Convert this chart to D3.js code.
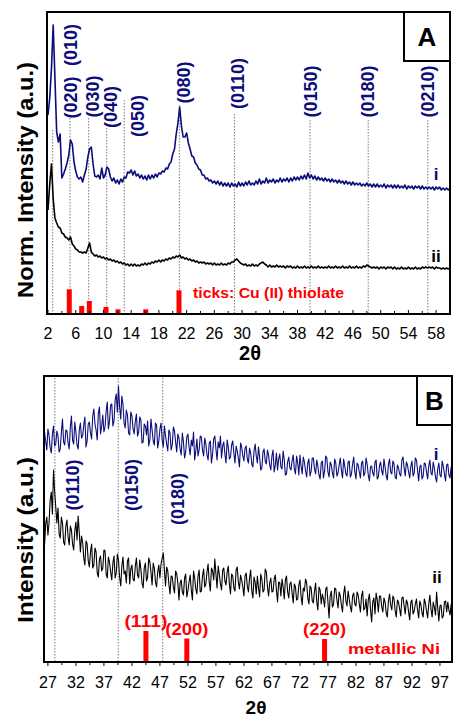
<!DOCTYPE html>
<html>
<head>
<meta charset="utf-8">
<script src="https://cdn.jsdelivr.net/npm/d3@7/dist/d3.min.js"></script>
<style>
body{margin:0;background:#fff;}
svg{display:block;font-family:"Liberation Sans",Arial,sans-serif;}
</style>
</head>
<body>
<svg id="chart" width="454" height="719"></svg>
<script>
// ---- panel A : 2theta 2..60, step 0.25
let startA = 2, stepA = 0.25;
let sampleI_A = [
 199,216,246,289,236,182,172,180,136,140,145,151,159,174,170,152,143,137,135,137,
 132,139,145,157,165,167,150,138,137,139,135,146,136,139,147,145,137,133,136,131,
 134,130,135,132,137,136,142,141,144,139,143,138,140,136,139,135,138,134,139,135,
 139,136,140,137,141,140,143,142,146,145,150,152,160,165,180,191,207,188,177,177,
 181,171,165,158,157,151,149,145,144,139,139,135,136,133,134,131,133,130,133,129,
 132,128,131,128,131,127,131,128,130,127,132,128,131,128,132,129,133,129,131,129,
 133,130,135,130,133,131,136,131,134,132,135,131,134,132,136,132,135,133,136,132,
 136,133,137,134,137,134,138,135,139,135,141,136,139,135,138,134,137,134,136,133,
 136,133,135,132,135,132,134,131,134,131,133,130,133,130,132,129,132,129,131,129,
 131,128,130,128,131,128,130,127,130,127,130,127,129,127,130,126,129,127,129,126,
 129,126,129,126,128,126,129,125,128,126,128,125,128,126,128,125,128,125,127,125,
 127,125,127,124,127,125,127,124,126,124,126,124,126
];
let sampleII_A = [
 104,130,150,115,96,91,87,86,81,80,77,76,74,77,70,68,65,64,62,62,
 61,62,61,66,71,62,60,58,59,57,58,56,57,55,56,54,55,53,54,52,
 53,51,52,50,51,49,50,48,50,48,50,48,49,48,50,49,51,49,51,50,
 52,51,53,52,54,52,54,53,55,54,56,55,57,56,58,57,59,56,57,55,
 56,54,55,53,54,52,53,51,52,51,52,50,51,50,51,49,51,49,50,49,
 51,49,50,49,51,50,52,52,54,55,53,51,50,49,50,48,49,48,50,48,
 49,48,50,51,52,50,49,47,49,47,48,47,49,47,48,47,48,46,48,47,
 48,46,47,46,48,46,47,46,48,46,47,46,48,46,47,46,48,46,47,46,
 47,46,48,46,47,46,48,46,47,46,48,46,47,46,48,46,47,46,48,46,
 47,46,48,47,49,48,47,46,47,46,47,45,47,46,47,45,47,46,47,45,
 47,45,46,45,47,45,46,45,47,45,46,45,47,45,46,45,47,46,47,46,
 47,46,47,45,47,46,46,45,46,45,46,45,46
];
let hklA = ["(010)","(020)","(030)","(040)","(050)","(080)","(0110)","(0150)","(0180)","(0210)"];
let hklPosA = [2.68,5.17,7.87,10.47,13.0,20.95,28.9,39.8,48.2,56.8];
let cuTickPos = [5.07,6.86,7.96,10.37,12.1,16.1,20.9];
let cuTickInt = [24.7,8,13,7,4.7,4.7,23.7];
let xTicksA = [2,6,10,14,18,22,26,30,34,38,42,46,50,54,58];

// ---- panel B : 2theta 26.4..99.2, step 0.2
let startB = 26.4, stepB = 0.2;
let sampleI_B = [
 230,221,212,233,227,214,209,228,236,216,218,231,226,210,213,229,243,220,217,232,
 231,219,213,235,246,222,218,240,230,217,213,232,239,224,226,237,245,215,221,238,
 240,229,223,246,253,238,232,222,249,255,228,236,247,230,235,251,260,233,241,257,
 258,236,241,262,268,250,276,255,243,266,258,239,234,252,247,229,227,250,246,233,
 228,241,248,226,230,245,242,219,220,238,236,227,241,216,222,243,232,221,217,239,
 237,214,221,233,239,222,215,236,226,218,211,232,229,212,217,235,231,220,210,228,
 224,213,207,229,220,204,210,225,228,215,207,222,216,230,202,211,223,206,212,226,
 225,212,206,224,218,207,202,219,221,199,208,223,226,213,202,220,214,226,204,216,
 220,208,199,222,215,203,205,217,221,209,199,216,211,204,195,219,215,206,201,214,
 216,203,199,214,209,198,195,211,218,206,199,215,205,192,194,210,213,201,198,212,
 207,197,192,206,212,190,197,209,192,203,208,195,193,211,202,187,188,200,205,194,
 192,201,207,193,188,206,199,187,207,196,188,205,200,191,185,199,203,186,191,204,
 204,193,188,202,196,187,183,199,201,184,191,206,204,190,185,200,197,189,184,203,
 199,186,189,197,204,192,184,203,196,188,186,200,201,185,188,198,205,190,183,199,
 197,190,184,199,201,186,189,204,198,187,181,195,196,189,186,200,202,183,185,196,
 200,191,187,203,195,186,182,198,203,190,188,201,198,185,183,197,194,188,186,202,
 205,194,186,200,197,190,184,196,201,186,189,204,202,192,181,195,197,183,186,199,
 198,190,183,196,202,189,187,200,194,185,180,193,199,187,185,201,196,188,181,197,
 198,187,184,195,193
];
let sampleII_B = [
 117,138,145,127,139,162,170,148,192,171,155,139,154,128,124,145,139,120,117,136,
 142,125,117,136,132,118,112,131,140,122,146,129,110,126,120,104,97,121,118,101,
 95,110,118,94,97,114,110,89,85,103,106,91,94,112,111,88,84,105,100,90,
 82,99,106,84,89,108,102,85,76,96,105,88,91,79,101,104,78,93,97,83,
 81,96,104,87,84,102,93,79,74,94,99,81,85,104,100,90,77,99,94,80,
 75,90,97,84,98,104,109,92,76,95,91,78,68,86,85,75,69,91,88,79,
 62,79,82,70,67,84,88,65,71,80,87,72,62,91,84,73,68,86,92,70,
 71,86,93,75,78,90,98,80,71,94,91,82,103,88,74,96,88,78,72,92,
 94,81,77,90,96,78,68,88,86,74,71,92,95,80,73,87,82,75,66,86,
 89,76,70,84,92,71,64,85,80,68,86,74,65,88,83,70,72,93,90,75,
 66,79,84,70,71,83,87,72,60,80,79,66,83,75,63,82,86,70,64,78,
 80,69,59,78,75,62,63,77,82,66,57,74,71,83,79,64,58,76,74,61,
 59,71,79,60,52,75,72,58,68,63,55,73,75,60,44,66,71,55,58,74,
 73,62,54,70,66,57,50,68,76,61,56,71,63,55,50,66,69,58,56,70,
 67,58,50,66,71,52,54,63,46,62,68,53,40,60,64,48,69,62,50,66,
 66,55,50,64,60,49,45,61,68,57,52,66,63,51,45,62,60,53,46,64,
 65,56,48,62,59,50,42,60,62,48,51,58,63,52,44,61,57,49,45,63,
 59,51,44,58,67,53,45,60,55,47,70,54,41,56,57,44,46,60,61,50,
 60,52,47,58,54
];
let hklB = ["(0110)","(0150)","(0180)"];
let hklPosB = [28.25,39.55,47.5];
let niTickPos = [44.5,51.8,76.4];
let niTickInt = [31,23.5,23];
let niTickLabels = ["(111)","(200)","(220)"];
let xTicksB = [27,32,37,42,47,52,57,62,67,72,77,82,87,92,97];

const NAVY = "#0c0c7a", RED = "#ff0000";
let svg = d3.select("#chart");

function toPoints(vals, start, step){
    return vals.map(function(v,i){ return [start + i*step, v]; });
}

function drawPanel(p){
    let x = d3.scaleLinear().domain(p.xDomain).range([p.left, p.right]);
    let y = d3.scaleLinear().domain(p.yDomain).range([p.bottom, p.top]);
    let g = svg.append("g");

    svg.append("clipPath").attr("id","clip"+p.name).append("rect")
        .attr("x",p.left).attr("y",p.top)
        .attr("width",p.right-p.left).attr("height",p.bottom-p.top);

    // dotted (0k0) guides
    g.selectAll(".guide").data(p.hklPos).enter().append("line")
        .attr("x1",function(d){return x(d);}).attr("x2",function(d){return x(d);})
        .attr("y1",function(d,i){return p.guideTop[i];}).attr("y2",p.bottom)
        .attr("stroke","#7a7a7a").attr("stroke-width",1).attr("stroke-dasharray","1.5,1.5");

    // reference sticks
    g.selectAll(".stick").data(p.stickPos).enter().append("rect")
        .attr("x",function(d){return x(d)-2.5;}).attr("width",5)
        .attr("y",function(d,i){return y(p.stickInt[i]);})
        .attr("height",function(d,i){return y(0)-y(p.stickInt[i]);})
        .attr("fill",RED);

    let line = d3.line().x(function(d){return x(d[0]);}).y(function(d){return y(d[1]);});
    let curves = g.append("g").attr("clip-path","url(#clip"+p.name+")");
    curves.append("path").datum(p.seriesII).attr("d",line)
        .attr("fill","none").attr("stroke","#000").attr("stroke-width",p.lw).attr("stroke-linejoin","round");
    curves.append("path").datum(p.seriesI).attr("d",line)
        .attr("fill","none").attr("stroke",NAVY).attr("stroke-width",p.lw).attr("stroke-linejoin","round");

    // hkl labels (vertical)
    g.selectAll(".hkl").data(p.hkl).enter().append("text")
        .attr("transform",function(d,i){return "translate("+p.hklX[i]+","+p.hklY[i]+") rotate(-90)";})
        .attr("text-anchor","middle").attr("font-size",18).attr("font-weight","bold")
        .attr("fill",NAVY).text(function(d){return d;});

    // x axis ticks + labels
    g.selectAll(".minor").data(p.minorTicks).enter().append("line")
        .attr("x1",function(d){return x(d);}).attr("x2",function(d){return x(d);})
        .attr("y1",p.bottom).attr("y2",function(d){return p.bottom + p.tickDir*(p.xTicks.indexOf(d)>=0?4:3);})
        .attr("stroke","#000").attr("stroke-width",1);
    g.selectAll(".xl").data(p.xTicks).enter().append("text")
        .attr("x",function(d){return x(d);}).attr("y",p.bottom+p.labelDy)
        .attr("text-anchor","middle").attr("font-size",16).text(function(d){return d;});
    g.append("text").attr("x",p.titleX).attr("y",p.titleY)
        .attr("text-anchor","middle").attr("font-size",p.titleSize).attr("font-weight","bold").text("2θ");

    // y title
    g.append("text").attr("transform","translate(33,"+p.yTitleY+") rotate(-90)")
        .attr("text-anchor","middle").attr("font-size",22).attr("font-weight","bold")
        .attr("textLength",p.yTitleLen).attr("lengthAdjust","spacingAndGlyphs")
        .text(p.yTitle);

    // i / ii
    g.append("text").attr("x",p.iPos[0]).attr("y",p.iPos[1]).attr("text-anchor","middle")
        .attr("font-size",17).attr("font-weight","bold").attr("fill",NAVY).text("i");
    g.append("text").attr("x",p.iiPos[0]).attr("y",p.iiPos[1]).attr("text-anchor","middle")
        .attr("font-size",17).attr("font-weight","bold").attr("fill","#000").text("ii");

    // frame + letter box
    g.append("rect").attr("x",p.left).attr("y",p.top)
        .attr("width",p.right-p.left).attr("height",p.bottom-p.top)
        .attr("fill","none").attr("stroke","#000").attr("stroke-width",2);
    g.append("rect").attr("x",p.box[0]).attr("y",p.top)
        .attr("width",p.right-p.box[0]).attr("height",p.box[1]-p.top)
        .attr("fill","#fff").attr("stroke","#000").attr("stroke-width",2);
    g.append("text").attr("x",(p.box[0]+p.right)/2).attr("y",p.box[2])
        .attr("text-anchor","middle").attr("font-size",26).attr("font-weight","bold").text(p.name);

    return {x:x, y:y, g:g};
}

let panelA = drawPanel({
    name:"A", left:47, right:450, top:12, bottom:314,
    xDomain:[1.856,60], yDomain:[0,302], lw:1.6,
    seriesI:toPoints(sampleI_A,startA,stepA), seriesII:toPoints(sampleII_A,startA,stepA),
    hkl:hklA, hklPos:hklPosA,
    guideTop:[130,118,118,128,100,105,114,120,120,120],
    hklX:[77,77,98.5,116.5,144,190,244,317,374,434],
    hklY:[45,97.5,96.5,107,116,82.5,83.5,91.5,91.5,91.5],
    stickPos:cuTickPos, stickInt:cuTickInt,
    xTicks:xTicksA, minorTicks:d3.range(2,61,2), tickDir:-1, labelDy:25,
    titleX:250, titleY:360, titleSize:20,
    yTitle:"Norm. Intensity (a.u.)", yTitleY:180, yTitleLen:236,
    iPos:[436,180], iiPos:[436,262],
    box:[404,61,46]
});
panelA.g.append("text").attr("x",193).attr("y",298)
    .attr("font-size",15.5).attr("font-weight","bold").attr("fill",RED)
    .attr("textLength",151).attr("lengthAdjust","spacingAndGlyphs")
    .text("ticks: Cu (II) thiolate");

let panelB = drawPanel({
    name:"B", left:44, right:452, top:376, bottom:662,
    xDomain:[26.3,99.15], yDomain:[0,286], lw:1.1,
    seriesI:toPoints(sampleI_B,startB,stepB), seriesII:toPoints(sampleII_B,startB,stepB),
    hkl:hklB, hklPos:hklPosB,
    guideTop:[378,378,378],
    hklX:[79,137.5,184],
    hklY:[485,485,499],
    stickPos:niTickPos, stickInt:niTickInt,
    xTicks:xTicksB, minorTicks:d3.range(27,98,2.5), tickDir:1, labelDy:26,
    titleX:256, titleY:714, titleSize:19,
    yTitle:"Intensity (a.u.)", yTitleY:540, yTitleLen:166,
    iPos:[436,460], iiPos:[437,583],
    box:[417,425,410]
});
panelB.g.selectAll(".niLab").data(niTickLabels).enter().append("text")
    .attr("x",function(d,i){return panelB.x(niTickPos[i]);})
    .attr("y",function(d,i){return panelB.y(niTickInt[i])-4;})
    .attr("text-anchor","middle").attr("font-size",16).attr("font-weight","bold")
    .attr("fill",RED).attr("textLength",43).attr("lengthAdjust","spacingAndGlyphs")
    .text(function(d){return d;});
panelB.g.append("text").attr("x",348).attr("y",654)
    .attr("font-size",15).attr("font-weight","bold").attr("fill",RED)
    .attr("textLength",92).attr("lengthAdjust","spacingAndGlyphs")
    .text("metallic Ni");
</script>
</body>
</html>
